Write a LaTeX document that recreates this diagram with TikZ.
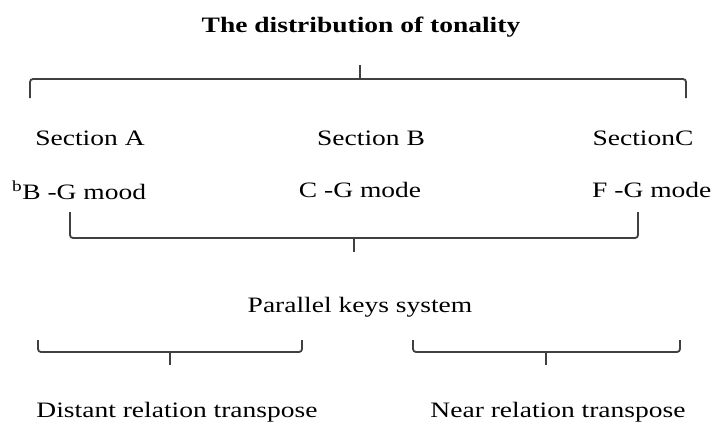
\documentclass[tikz,border=0pt]{standalone}
\usepackage{fontspec}
\setmainfont{Liberation Serif}[FakeStretch=1.25]

\begin{document}
\begin{tikzpicture}[x=1pt,y=-1pt,
thin,txt/.style = {inner sep = 0pt, font=\fontsize{22}{26}\selectfont},
brace/.style = {draw=black!75, line width=1.8pt, rounded corners=3pt}]

\useasboundingbox (0,0) rectangle (722,429);

\node[txt,font=\fontsize{22}{26}\selectfont\bfseries] (t) at (361,27) {The distribution of tonality};
\node[txt] (sa) at (90,138) {Section A};
\node[txt] (sb) at (371,138) {Section B};
\node[txt] (sc) at (643,138) {SectionC};
\node[txt,anchor=west] (ka) at (12,190) {\textsuperscript{b}B -G mood};
\node[txt] (kb) at (360,190) {C -G mode};
\node[txt,anchor=west] (kc) at (592,190) {F -G mode};
\node[txt] (p) at (360,307) {Parallel keys system};
\node[txt] (d) at (177,412) {Distant relation transpose};
\node[txt] (n) at (558,412) {Near relation transpose};

% top brace
\coordinate (1) at (30,98);
\coordinate (2) at (686,98);
\coordinate (3) at (360,65);
\draw[brace] (1) |- (3 |- 0,79) -| (2);
\draw[brace] (3 |- 0,79) -- (3);

% keys brace
\coordinate (4) at (70,212);
\coordinate (5) at (638,212);
\coordinate (6) at (354,252);
\draw[brace] (4) |- (6 |- 0,238) -| (5);
\draw[brace] (6 |- 0,238) -- (6);

% lower braces
\coordinate (7) at (38,340);
\coordinate (8) at (302,340);
\coordinate (9) at (170,365);
\draw[brace] (7) |- (9 |- 0,352) -| (8);
\draw[brace] (9 |- 0,352) -- (9);
\coordinate (10) at (413,340);
\coordinate (11) at (680,340);
\coordinate (12) at (546,365);
\draw[brace] (10) |- (12 |- 0,352) -| (11);
\draw[brace] (12 |- 0,352) -- (12);
\end{tikzpicture}
\end{document}
